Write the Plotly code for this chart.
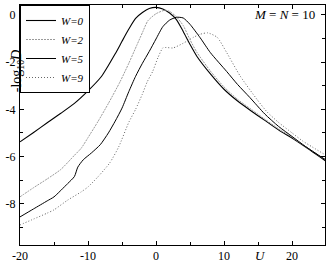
import plotly.graph_objects as go

# W = 0
u_w0 = [-20, -18, -16, -14, -12, -10, -8, -6, -5, -4, -3, -2, -1, 0, 1, 2, 3, 4, 5, 6, 8, 10, 12, 14, 16, 18, 20, 22, 25]
d_w0 = [-5.38, -4.98, -4.57, -4.17, -3.75, -3.22, -2.6, -1.65, -1.12, -0.6, -0.15, 0.1, 0.27, 0.32, 0.25, 0.08, -0.2, -0.7, -1.25, -1.75, -2.5, -3.15, -3.65, -4.07, -4.47, -4.87, -5.22, -5.6, -6.2]
# W = 2
u_w2 = [-20, -18, -16, -14, -12, -11, -10, -8.5, -7, -5.3, -4, -2.8, -2, -1.2, 0, 1.3, 2, 3, 4, 5, 6, 8, 10, 12, 14, 16, 18, 20, 22, 25]
d_w2 = [-7.71, -7.32, -6.95, -6.55, -5.95, -5.65, -5.2, -4.5, -3.75, -2.84, -2.05, -1.27, -0.75, -0.25, 0.05, 0.2, 0.15, -0.08, -0.45, -1.05, -1.58, -2.38, -3.05, -3.58, -4.0, -4.42, -4.82, -5.18, -5.58, -6.15]
# W = 5
u_w5 = [-20, -18, -16, -15, -13, -12, -11.5, -10.7, -9.5, -8.2, -7, -6, -5, -4, -3, -2, -1, 0, 1, 2, 3, 4, 5, 6.5, 8, 10.4, 12, 13.8, 16, 18, 20, 22, 25]
d_w5 = [-8.56, -8.22, -7.88, -7.71, -7.15, -6.85, -6.45, -6.14, -5.85, -5.5, -5.0, -4.5, -3.95, -3.25, -2.6, -2.05, -1.55, -1.02, -0.5, -0.22, -0.1, -0.13, -0.4, -0.97, -1.6, -2.4, -2.95, -3.5, -4.2, -4.72, -5.15, -5.58, -6.15]
# W = 9
u_w9 = [-20, -18, -16, -15, -13, -11, -10, -8.5, -6.8, -5.5, -4, -3, -2, -1.3, -0.5, 0.3, 1, 1.5, 2.5, 4, 5.5, 6.5, 7.6, 9, 10.4, 12.4, 14.9, 16.3, 18, 20, 21.6, 23, 25]
d_w9 = [-8.9, -8.65, -8.4, -8.26, -7.85, -7.5, -7.29, -6.85, -6.27, -5.6, -4.55, -4.0, -3.35, -2.84, -2.4, -1.8, -1.4, -1.38, -1.4, -1.2, -0.95, -0.82, -0.76, -0.95, -1.6, -2.6, -3.6, -4.1, -4.55, -5.0, -5.35, -5.6, -5.95]

names = ["W=0", "W=2", "W=5", "W=9"]
x_ticks = [-20, -10, 0, 10, 20]
x_tick_text = ["-20", "-10", "0", "10", "20"]
y_ticks = [-8, -6, -4, -2, 0]
y_tick_text = ["-8", "-6", "-4", "-2", "0"]

FONT = "Liberation Serif"

fig = go.Figure()
styles = [
    dict(color="black", width=1.1, dash="solid"),
    dict(color="#9a9a9a", width=1, dash="2px,1px"),
    dict(color="black", width=1, dash="solid"),
    dict(color="#666666", width=1, dash="1px,2px"),
]
for u, d, n, s in zip([u_w0, u_w2, u_w5, u_w9], [d_w0, d_w2, d_w5, d_w9], names, styles):
    fig.add_trace(go.Scatter(x=u, y=d, mode="lines", name="<i>" + n + "</i>",
                             line=dict(shape="spline", smoothing=0.6, **s)))

axis_common = dict(showgrid=False, zeroline=False, showline=True, linecolor="black", linewidth=1,
                   mirror="ticks", ticks="inside", ticklen=4, tickcolor="black", automargin=False,
                   tickfont=dict(family=FONT, size=12, color="black"))
fig.update_xaxes(range=[-20, 24.85], tickvals=x_ticks, ticktext=x_tick_text, ticklabelstandoff=0,
                 minor=dict(dtick=5, tick0=0, ticks="inside", ticklen=3, tickcolor="black"),
                 **axis_common)
fig.update_yaxes(range=[-9.75, 0.42], tickvals=y_ticks, ticktext=y_tick_text, ticklabelstandoff=1,
                 minor=dict(dtick=1, tick0=0, ticks="inside", ticklen=3, tickcolor="black"),
                 **axis_common)

fig.add_annotation(text="-log<sub>10</sub><i>D</i>", textangle=-90, xref="paper", yref="y",
                   x=-0.042, y=-2.4, showarrow=False, font=dict(family=FONT, size=14, color="black"))
fig.add_annotation(text="<i>U</i>", xref="x", yref="paper", x=15.3, y=-0.005, yanchor="top",
                   showarrow=False, font=dict(family=FONT, size=13, color="black"))
fig.add_annotation(text="<i>M</i> = <i>N</i> = 10", xref="paper", yref="y", x=0.975, xanchor="right",
                   y=0.0, showarrow=False, font=dict(family=FONT, size=13, color="black"))

fig.update_layout(
    width=332, height=262,
    margin=dict(l=20, r=7, t=5, b=17, autoexpand=False),
    paper_bgcolor="white", plot_bgcolor="white",
    showlegend=True,
    legend=dict(x=0, y=1, xanchor="left", yanchor="top", bgcolor="white", bordercolor="black",
                borderwidth=1, font=dict(family=FONT, size=11, color="black"),
                itemwidth=30, tracegroupgap=0),
)
fig.write_html("out.html", config={"displayModeBar": False},
               post_script="document.body.style.margin='0';")
